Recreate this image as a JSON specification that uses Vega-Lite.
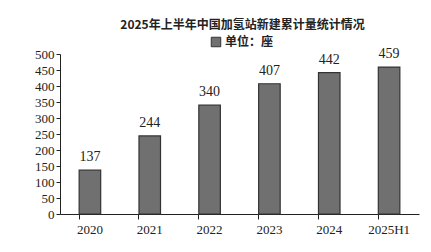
{
  "$schema": "https://vega.github.io/schema/vega-lite/v6.json",
  "width": 359,
  "height": 160,
  "autosize": {"type": "none"},
  "padding": {"left": 60, "top": 54, "right": 12, "bottom": 38},
  "background": "white",
  "title": {
    "text": "2025年上半年中国加氢站新建累计量统计情况",
    "font": "Noto Sans CJK SC",
    "fontSize": 12,
    "fontWeight": "bold",
    "color": "#222",
    "anchor": "middle",
    "offset": 4,
    "dx": 3
  },
  "data": {
    "values": [
      {"year": "2020", "value": 137, "series": "单位：座"},
      {"year": "2021", "value": 244, "series": "单位：座"},
      {"year": "2022", "value": 340, "series": "单位：座"},
      {"year": "2023", "value": 407, "series": "单位：座"},
      {"year": "2024", "value": 442, "series": "单位：座"},
      {"year": "2025H1", "value": 459, "series": "单位：座"}
    ]
  },
  "config": {
    "view": {"stroke": null},
    "axis": {
      "labelFont": "Liberation Serif",
      "labelFontSize": 13,
      "labelColor": "#222",
      "domainColor": "#222",
      "tickColor": "#222",
      "grid": false,
      "title": null
    }
  },
  "encoding": {
    "x": {
      "field": "year",
      "type": "nominal",
      "sort": null,
      "scale": {"paddingInner": 0.64, "paddingOuter": 0.32},
      "axis": {"labelAngle": 0, "bandPosition": 0, "tickSize": 5, "labelPadding": 4, "domainWidth": 1}
    },
    "y": {
      "field": "value",
      "type": "quantitative",
      "scale": {"domain": [0, 500]},
      "axis": {"values": [0, 50, 100, 150, 200, 250, 300, 350, 400, 450, 500], "tickSize": 4, "labelPadding": 2}
    }
  },
  "layer": [
    {
      "mark": {"type": "bar", "stroke": "#333", "strokeWidth": 1.2},
      "encoding": {
        "color": {
          "field": "series",
          "type": "nominal",
          "scale": {"range": ["#707070"]},
          "legend": {
            "title": null,
            "orient": "none",
            "legendX": 150,
            "legendY": -18,
            "symbolType": "square",
            "symbolSize": 90,
            "symbolStrokeColor": "#333",
            "symbolStrokeWidth": 1,
            "labelFont": "Noto Sans CJK SC",
            "labelFontSize": 12,
            "labelFontWeight": "bold",
            "labelColor": "#222",
            "labelOffset": 3
          }
        }
      }
    },
    {
      "mark": {"type": "text", "dy": -13, "font": "Liberation Serif", "fontSize": 14, "color": "#222"},
      "encoding": {"text": {"field": "value", "type": "quantitative"}}
    }
  ]
}
